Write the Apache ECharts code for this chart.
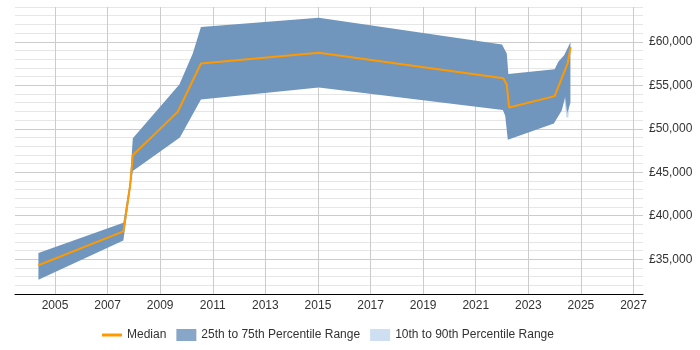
<!DOCTYPE html>
<html>
<head>
<meta charset="utf-8">
<script src="https://cdn.jsdelivr.net/npm/echarts@6/dist/echarts.min.js"></script>
<style>
html, body { margin: 0; padding: 0; background: #fff; }
#chart { width: 700px; height: 350px; }
</style>
</head>
<body>
<div id="chart"></div>
<script>
// tick labels
const yearTicks = [2005, 2007, 2009, 2011, 2013, 2015, 2017, 2019, 2021, 2023, 2025, 2027]

// median salary
const medX = [2004.37, 2007.60, 2007.85, 2007.96, 2009.67, 2010.55, 2015.03, 2022.05, 2022.18, 2022.27, 2024.00, 2024.49, 2024.61]
const medY = [34300, 38200, 43300, 46950, 51950, 57500, 58750, 55800, 55050, 52450, 53750, 57500, 59400]

// 75th percentile (upper edge)
const p75X = [2004.37, 2007.60, 2007.85, 2007.96, 2009.73, 2010.24, 2010.55, 2015.03, 2022.00, 2022.18, 2022.24, 2024.00, 2024.14, 2024.36, 2024.60]
const p75Y = [35700, 39200, 44000, 48900, 55100, 58650, 61700, 62750, 59700, 58650, 56300, 56850, 57700, 58450, 59950]

// 25th percentile (lower edge)
const p25X = [2004.37, 2007.60, 2007.96, 2009.75, 2010.55, 2015.03, 2022.03, 2022.12, 2022.22, 2023.97, 2024.27, 2024.40, 2024.48, 2024.60]
const p25Y = [32650, 37150, 45150, 49000, 53350, 54750, 52150, 51500, 48750, 50600, 52100, 53650, 51800, 53000]

// 10th / 90th percentile (only pokes out at the very end)
const p90X = [2024.36, 2024.58]
const p90Y = [53600, 53600]
const p10X = [2024.36, 2024.45, 2024.52, 2024.58]
const p10Y = [53600, 51300, 51300, 53600]

function bandRenderer(topX, topY, botX, botY, color) {
  return function (params, api) {
    const pts = []
    for (let i = 0; i < topX.length; i++) pts.push(api.coord([topX[i], topY[i]]))
    for (let i = botX.length - 1; i >= 0; i--) pts.push(api.coord([botX[i], botY[i]]))
    return { type: 'polygon', shape: { points: pts }, style: { fill: color } }
  }
}

const myChart = echarts.init(document.getElementById('chart'))
myChart.setOption({
  animation: false,
  textStyle: { fontFamily: 'Liberation Sans, Arial, sans-serif' },
  grid: { left: 15, right: 57, top: 7, bottom: 56, containLabel: false },
  legend: {
    left: 97,
    bottom: 4,
    itemWidth: 20,
    itemHeight: 12,
    itemGap: 10,
    textStyle: { color: '#333', fontSize: 12 },
    data: [
      { name: 'Median', icon: 'path://M0,0h20v3h-20z', itemStyle: { color: '#ff9900' } },
      { name: '25th to 75th Percentile Range', icon: 'rect', itemStyle: { color: '#87a6c8' } },
      { name: '10th to 90th Percentile Range', icon: 'rect', itemStyle: { color: '#cddff1' } }
    ]
  },
  xAxis: {
    type: 'value',
    min: 2003.48,
    max: 2027.36,
    axisLine: { lineStyle: { color: '#000', width: 1 } },
    axisTick: { show: false, customValues: yearTicks },
    axisLabel: {
      customValues: yearTicks,
      color: '#333',
      fontSize: 12,
      margin: 6,
      formatter: v => String(v)
    },
    splitLine: { show: true, lineStyle: { color: '#ccc' } }
  },
  yAxis: {
    type: 'value',
    position: 'right',
    min: 31000,
    max: 64000,
    interval: 1000,
    axisLine: { show: false },
    axisTick: { show: false },
    axisLabel: {
      interval: 0,
      color: '#333',
      fontSize: 12,
      margin: 6,
      formatter: v => (v % 5000 === 0 ? '£' + v.toLocaleString('en-GB') : '')
    },
    splitLine: {
      show: true,
      lineStyle: { color: ['#e6e6e6', '#e6e6e6', '#e6e6e6', '#e6e6e6', '#ccc'] }
    }
  },
  series: [
    {
      name: '10th to 90th Percentile Range',
      type: 'custom',
      clip: true,
      data: [[p10X[0], p10Y[0]]],
      encode: { x: 0, y: 1 },
      itemStyle: { color: '#cddff1' },
      renderItem: bandRenderer(p90X, p90Y, p10X, p10Y, '#c6d8ec'),
      z: 1
    },
    {
      name: '25th to 75th Percentile Range',
      type: 'custom',
      clip: true,
      data: [[p25X[0], p25Y[0]]],
      encode: { x: 0, y: 1 },
      itemStyle: { color: '#87a6c8' },
      renderItem: bandRenderer(p75X, p75Y, p25X, p25Y, '#7096be'),
      z: 2
    },
    {
      name: 'Median',
      type: 'line',
      symbol: 'none',
      color: '#ff9900',
      lineStyle: { width: 2, color: '#ff9900' },
      data: medX.map((x, i) => [x, medY[i]]),
      z: 3
    }
  ]
})
</script>
</body>
</html>
